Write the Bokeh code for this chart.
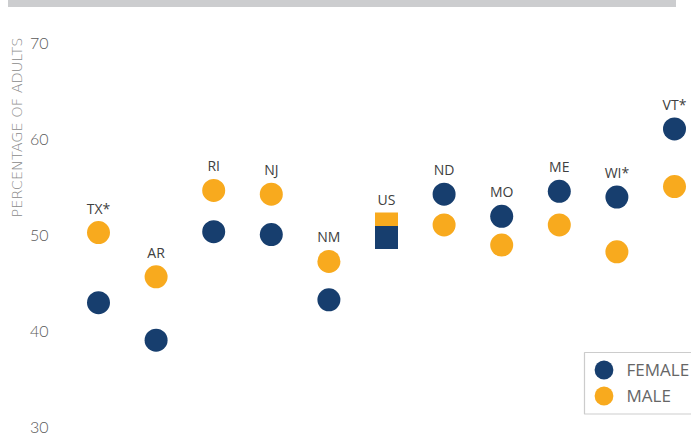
from bokeh.plotting import figure
from bokeh.layouts import column
from bokeh.models import (Range1d, Legend, LegendItem, ColumnDataSource, BoxAnnotation,
                          Title, Div)
from bokeh.core.properties import value
from bokeh.embed import file_html
from bokeh.resources import INLINE

states = ["TX*", "AR", "RI", "NJ", "NM", "US", "ND", "MO", "ME", "WI*", "VT*"]
female = [43.0, 39.1, 50.4, 50.1, 43.3, 49.8, 54.3, 52.0, 54.6, 54.0, 61.1]
male = [50.3, 45.7, 54.7, 54.3, 47.3, 51.2, 51.1, 49.0, 51.1, 48.3, 55.1]
y_ticks = [30, 40, 50, 60, 70]

NAVY = "#173E6E"
ORANGE = "#F8AA1E"

xs = list(range(len(states)))
is_us = [s == "US" for s in states]
st_idx = [i for i in xs if not is_us[i]]
us_idx = [i for i in xs if is_us[i]]

src_state = ColumnDataSource(dict(
    x=[xs[i] for i in st_idx],
    f=[female[i] for i in st_idx],
    m=[male[i] for i in st_idx],
))
src_us = ColumnDataSource(dict(
    x=[xs[i] for i in us_idx],
    f=[female[i] for i in us_idx],
    m=[male[i] for i in us_idx],
))
src_lab = ColumnDataSource(dict(
    x=xs,
    y=[max(a, b) for a, b in zip(female, male)],
    t=states,
))

BAND_H = 7
W, H = 691, 438 - BAND_H
FL = 58                 # frame left (px)
spacing = 57.6          # px per category
ppu = 9.6               # px per percentage point
Y70 = 43                # screen y of the 70 tick

x0 = -(98 - FL) / spacing
x1 = x0 + (W - FL) / spacing
y_top = 70 + (Y70 - BAND_H) / ppu
y_bot = 70 - (438 - Y70) / ppu

def sx(px):
    return x0 + (px - FL) / spacing

def sy(py):
    return 70 - (py - Y70) / ppu

p = figure(width=W, height=H, output_backend="svg", toolbar_location=None,
           x_range=Range1d(x0, x1), y_range=Range1d(y_bot, y_top),
           min_border_left=FL, min_border_right=0,
           min_border_top=0, min_border_bottom=0)
p.outline_line_color = None
p.xgrid.visible = False
p.ygrid.visible = False
p.xaxis.visible = False
p.background_fill_color = "white"
p.border_fill_color = "white"

ax = p.yaxis[0]
ax.ticker = y_ticks
ax.axis_line_color = None
ax.major_tick_line_color = None
ax.minor_tick_line_color = None
ax.major_label_text_font = "Lato Light, Lato"
ax.major_label_text_font_size = "16px"
ax.major_label_text_color = "#5A5A5A"
ax.major_label_standoff = 4

# y-axis title, placed near the top like the reference
p.add_layout(Title(text="PERCENTAGE OF ADULTS", align="right", offset=30,
                   text_font="DejaVu Sans ExtraLight, DejaVu Sans Light, DejaVu Sans",
                   text_font_size="14.5px",
                   text_font_style="normal", text_color="#8A8A8A", standoff=4),
             "left")

# US squares
p.scatter("x", "m", source=src_us, marker="square", size=23, fill_color=ORANGE,
          line_color=None)
p.scatter("x", "f", source=src_us, marker="square", size=23, fill_color=NAVY,
          line_color=None)

rm = p.scatter("x", "m", source=src_state, marker="circle", size=23, fill_color=ORANGE,
               line_color=None)
rf = p.scatter("x", "f", source=src_state, marker="circle", size=23, fill_color=NAVY,
               line_color=None)

p.text("x", "y", text="t", source=src_lab, y_offset=-15, text_align="center",
       text_baseline="bottom", text_font=value("Open Sans"), text_font_size="14px",
       text_color="#404040")

# legend border box
p.add_layout(BoxAnnotation(left=sx(584), right=sx(760), top=sy(352), bottom=sy(413.5),
                           fill_color="white", fill_alpha=1, line_color="#555555",
                           line_width=1.2))

def one_item_legend(label, rend, loc):
    return Legend(items=[LegendItem(label=label, renderers=[rend])],
                  location=loc, glyph_height=47, glyph_width=47,
                  padding=0, label_standoff=0, margin=0, spacing=0,
                  label_text_font="Open Sans", label_text_font_size="17px",
                  label_text_color="#666666", border_line_color=None,
                  background_fill_alpha=0)

p.add_layout(one_item_legend("FEMALE", rf, (579.5 - FL, 438 - 392.5)), "center")
p.add_layout(one_item_legend("MALE", rm, (579.5 - FL, 438 - 418.5)), "center")

band = Div(width=668, height=BAND_H, margin=(0, 0, 0, 8),
           styles={"background-color": "#CCCDCF"})

layout = column(band, p, spacing=0)

open("out.html", "w").write(file_html(layout, INLINE))
